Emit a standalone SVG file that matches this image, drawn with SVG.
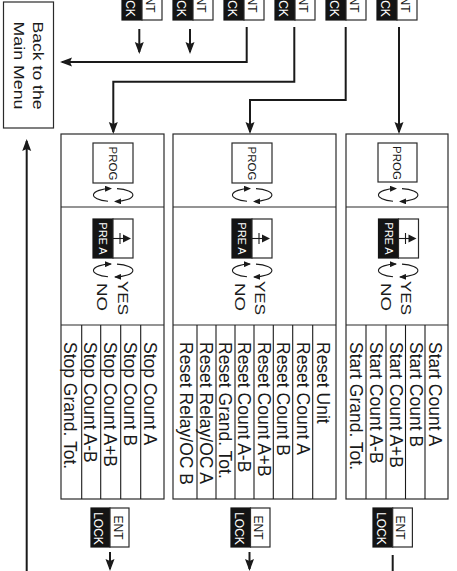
<svg xmlns="http://www.w3.org/2000/svg" width="457" height="571" viewBox="0 0 457 571">
<defs>
<style>
.b{fill:none;stroke:#2a2a2a;stroke-width:1.2}
.w{fill:#fff;stroke:#2a2a2a;stroke-width:1.2}
.k{fill:#141414;stroke:#141414;stroke-width:1.2}
.c{fill:none;stroke:#1a1a1a;stroke-width:2}
.l{fill:none;stroke:#1a1a1a;stroke-width:1.1}
.t{font-family:"Liberation Sans",Arial,sans-serif;fill:#1a1a1a}
.tw{font-family:"Liberation Sans",Arial,sans-serif;fill:#fff}
.li{font-size:17.5px}
.s{font-size:12px}
</style>
<marker id="ah" markerUnits="userSpaceOnUse" markerWidth="12" markerHeight="10" viewBox="0 0 12 10" refX="10" refY="5" orient="auto">
<path d="M0,0.5 L12,5 L0,9.5 L2,5 z" fill="#1a1a1a"/>
</marker>
<marker id="sa" markerUnits="userSpaceOnUse" markerWidth="7" markerHeight="6" viewBox="0 0 7 6" refX="6" refY="3" orient="auto">
<path d="M0,0 L7,3 L0,6 z" fill="#1a1a1a"/>
</marker>
</defs>

<g id="top-keys">
<rect class="k" x="122" y="-19" width="20" height="39"/><rect class="w" x="142" y="-19" width="20" height="39"/>
<rect class="k" x="173" y="-19" width="20" height="39"/><rect class="w" x="193" y="-19" width="20" height="39"/>
<rect class="k" x="224" y="-19" width="20" height="39"/><rect class="w" x="244" y="-19" width="20" height="39"/>
<rect class="k" x="275" y="-19" width="20" height="39"/><rect class="w" x="295" y="-19" width="20" height="39"/>
<rect class="k" x="326" y="-19" width="20" height="39"/><rect class="w" x="346" y="-19" width="20" height="39"/>
<rect class="k" x="377" y="-19" width="20" height="39"/><rect class="w" x="397" y="-19" width="20" height="39"/>
<g class="s" text-anchor="middle">
<text class="tw" transform="translate(125.5,0.5) rotate(90)">LOCK</text><text class="t" transform="translate(145.5,0.5) rotate(90)">ENT</text>
<text class="tw" transform="translate(176.5,0.5) rotate(90)">LOCK</text><text class="t" transform="translate(196.5,0.5) rotate(90)">ENT</text>
<text class="tw" transform="translate(227.5,0.5) rotate(90)">LOCK</text><text class="t" transform="translate(247.5,0.5) rotate(90)">ENT</text>
<text class="tw" transform="translate(278.5,0.5) rotate(90)">LOCK</text><text class="t" transform="translate(298.5,0.5) rotate(90)">ENT</text>
<text class="tw" transform="translate(329.5,0.5) rotate(90)">LOCK</text><text class="t" transform="translate(349.5,0.5) rotate(90)">ENT</text>
<text class="tw" transform="translate(380.5,0.5) rotate(90)">LOCK</text><text class="t" transform="translate(400.5,0.5) rotate(90)">ENT</text>
</g>
</g>

<g id="back-main-menu">
<rect class="b" x="3.5" y="2" width="50" height="126"/>
<text class="t" font-size="15.5" text-anchor="middle" textLength="88" lengthAdjust="spacingAndGlyphs" transform="translate(32.5,65.5) rotate(90)">Back to the</text>
<text class="t" font-size="15.5" text-anchor="middle" textLength="88" lengthAdjust="spacingAndGlyphs" transform="translate(13.5,65.5) rotate(90)">Main Menu</text>
</g>

<g id="stop-box">
<rect class="b" x="61" y="134" width="103" height="365"/>
<line class="b" x1="61" y1="207" x2="164" y2="207"/>
<line class="b" x1="61" y1="325" x2="164" y2="325"/>
<rect class="w" x="93" y="143" width="40" height="40"/>
<text class="t" font-size="11.5" text-anchor="middle" transform="translate(108.5,163.5) rotate(90)">PROG</text>
<path class="l" d="M108,201.3 A19,6.5 0 0 1 111,188.5" marker-end="url(#sa)"/>
<path class="l" d="M117,188.6 A19,6.5 0 0 1 115,201.5" marker-end="url(#sa)"/>
<rect class="k" x="93" y="219" width="20" height="39"/><rect class="w" x="113" y="219" width="20" height="39"/>
<text class="tw" font-size="11" text-anchor="middle" transform="translate(99,238.5) rotate(90)">PRE A</text>
<line class="l" x1="113" y1="238.5" x2="125" y2="238.5"/><line class="l" x1="120" y1="233" x2="120" y2="244"/>
<path d="M131,238.5 L123,234.5 L123,242.5 z" fill="#1a1a1a"/>
<path class="l" d="M108,276.8 A19,6.5 0 0 1 111,264" marker-end="url(#sa)"/>
<path class="l" d="M117,264.1 A19,6.5 0 0 1 115,277" marker-end="url(#sa)"/>
<text class="t" font-size="15" textLength="34" lengthAdjust="spacingAndGlyphs" transform="translate(117.5,281) rotate(90)">YES</text>
<text class="t" font-size="15" textLength="28" lengthAdjust="spacingAndGlyphs" transform="translate(97,283) rotate(90)">NO</text>
<g class="l"><line x1="81.7" y1="325" x2="81.7" y2="499"/><line x1="100.7" y1="325" x2="100.7" y2="499"/><line x1="120.7" y1="325" x2="120.7" y2="499"/><line x1="140.7" y1="325" x2="140.7" y2="499"/></g>
<g class="t li">
<text transform="translate(143.5,342) rotate(90)">Stop Count A</text>
<text transform="translate(123.5,342) rotate(90)">Stop Count B</text>
<text transform="translate(103.5,342) rotate(90)">Stop Count A+B</text>
<text transform="translate(83.5,342) rotate(90)">Stop Count A-B</text>
<text transform="translate(63.5,342) rotate(90)">Stop Grand. Tot.</text>
</g>
<rect class="k" x="91" y="508" width="19" height="39"/><rect class="w" x="110" y="508" width="19" height="39"/>
<text class="tw s" text-anchor="middle" transform="translate(94.3,528.5) rotate(90)">LOCK</text>
<text class="t s" text-anchor="middle" transform="translate(113.5,527.5) rotate(90)">ENT</text>
</g>

<g id="reset-box">
<rect class="b" x="173" y="134" width="163" height="365"/>
<line class="b" x1="173" y1="207" x2="336" y2="207"/>
<line class="b" x1="173" y1="325" x2="336" y2="325"/>
<rect class="w" x="232" y="143" width="40" height="40"/>
<text class="t" font-size="11.5" text-anchor="middle" transform="translate(247.5,163.5) rotate(90)">PROG</text>
<path class="l" d="M247,201.3 A19,6.5 0 0 1 250,188.5" marker-end="url(#sa)"/>
<path class="l" d="M256,188.6 A19,6.5 0 0 1 254,201.5" marker-end="url(#sa)"/>
<rect class="k" x="232" y="219" width="20" height="39"/><rect class="w" x="252" y="219" width="20" height="39"/>
<text class="tw" font-size="11" text-anchor="middle" transform="translate(238,238.5) rotate(90)">PRE A</text>
<line class="l" x1="252" y1="238.5" x2="264" y2="238.5"/><line class="l" x1="259" y1="233" x2="259" y2="244"/>
<path d="M270,238.5 L262,234.5 L262,242.5 z" fill="#1a1a1a"/>
<path class="l" d="M247,276.8 A19,6.5 0 0 1 250,264" marker-end="url(#sa)"/>
<path class="l" d="M256,264.1 A19,6.5 0 0 1 254,277" marker-end="url(#sa)"/>
<text class="t" font-size="15" textLength="34" lengthAdjust="spacingAndGlyphs" transform="translate(255,281) rotate(90)">YES</text>
<text class="t" font-size="15" textLength="28" lengthAdjust="spacingAndGlyphs" transform="translate(235,283) rotate(90)">NO</text>
<g class="l"><line x1="197" y1="325" x2="197" y2="499"/><line x1="216" y1="325" x2="216" y2="499"/><line x1="235" y1="325" x2="235" y2="499"/><line x1="254" y1="325" x2="254" y2="499"/><line x1="273.3" y1="325" x2="273.3" y2="499"/><line x1="292.7" y1="325" x2="292.7" y2="499"/><line x1="312.7" y1="325" x2="312.7" y2="499"/></g>
<g class="t li">
<text transform="translate(316.5,342) rotate(90)">Reset Unit</text>
<text transform="translate(296.5,342) rotate(90)">Reset Count A</text>
<text transform="translate(277,342) rotate(90)">Reset Count B</text>
<text transform="translate(257.5,342) rotate(90)">Reset Count A+B</text>
<text transform="translate(238.3,342) rotate(90)">Reset Count A-B</text>
<text transform="translate(219.3,342) rotate(90)">Reset Grand. Tot.</text>
<text transform="translate(199.5,342) rotate(90)">Reset Relay/OC A</text>
<text transform="translate(180,342) rotate(90)">Reset Relay/OC B</text>
</g>
<rect class="k" x="231" y="508" width="19.5" height="39"/><rect class="w" x="250.5" y="508" width="19.5" height="39"/>
<text class="tw s" text-anchor="middle" transform="translate(234.5,528.5) rotate(90)">LOCK</text>
<text class="t s" text-anchor="middle" transform="translate(254,527.5) rotate(90)">ENT</text>
</g>

<g id="start-box">
<rect class="b" x="346" y="134" width="102" height="365"/>
<line class="b" x1="346" y1="207" x2="448" y2="207"/>
<line class="b" x1="346" y1="325" x2="448" y2="325"/>
<rect class="w" x="378" y="143" width="39" height="39"/>
<text class="t" font-size="11.5" text-anchor="middle" transform="translate(393,163) rotate(90)">PROG</text>
<path class="l" d="M393,201.3 A19,6.5 0 0 1 396,188.5" marker-end="url(#sa)"/>
<path class="l" d="M402,188.6 A19,6.5 0 0 1 400,201.5" marker-end="url(#sa)"/>
<rect class="k" x="378.5" y="219" width="20" height="39"/><rect class="w" x="398.5" y="219" width="20" height="39"/>
<text class="tw" font-size="11" text-anchor="middle" transform="translate(384.5,238.5) rotate(90)">PRE A</text>
<line class="l" x1="398.5" y1="238.5" x2="410.5" y2="238.5"/><line class="l" x1="405.5" y1="233" x2="405.5" y2="244"/>
<path d="M416.5,238.5 L408.5,234.5 L408.5,242.5 z" fill="#1a1a1a"/>
<path class="l" d="M393,276.8 A19,6.5 0 0 1 396,264" marker-end="url(#sa)"/>
<path class="l" d="M402,264.1 A19,6.5 0 0 1 400,277" marker-end="url(#sa)"/>
<text class="t" font-size="15" textLength="34" lengthAdjust="spacingAndGlyphs" transform="translate(400.5,281) rotate(90)">YES</text>
<text class="t" font-size="15" textLength="28" lengthAdjust="spacingAndGlyphs" transform="translate(380.5,283) rotate(90)">NO</text>
<g class="l"><line x1="366" y1="325" x2="366" y2="499"/><line x1="386" y1="325" x2="386" y2="499"/><line x1="405.5" y1="325" x2="405.5" y2="499"/><line x1="425" y1="325" x2="425" y2="499"/></g>
<g class="t li">
<text transform="translate(429,342) rotate(90)">Start Count A</text>
<text transform="translate(409.5,342) rotate(90)">Start Count B</text>
<text transform="translate(390,342) rotate(90)">Start Count A+B</text>
<text transform="translate(370,342) rotate(90)">Start Count A-B</text>
<text transform="translate(350,342) rotate(90)">Start Grand. Tot.</text>
</g>
<rect class="k" x="373" y="508" width="19.7" height="39"/><rect class="w" x="392.7" y="508" width="19.7" height="39"/>
<text class="tw s" text-anchor="middle" transform="translate(376.5,528.5) rotate(90)">LOCK</text>
<text class="t s" text-anchor="middle" transform="translate(396.2,527.5) rotate(90)">ENT</text>
</g>

<g id="connectors">
<line class="c" x1="139.3" y1="29" x2="139.3" y2="52" marker-end="url(#ah)"/>
<line class="c" x1="190" y1="29" x2="190" y2="52" marker-end="url(#ah)"/>
<polyline class="c" points="246.7,27 246.7,62 62,62" marker-end="url(#ah)"/>
<polyline class="c" points="294.3,27 294.3,81.7 113.3,81.7 113.3,132" marker-end="url(#ah)"/>
<polyline class="c" points="345.7,27 345.7,100 250,100 250,132" marker-end="url(#ah)"/>
<line class="c" x1="399" y1="27" x2="399" y2="132" marker-end="url(#ah)"/>
<line class="c" x1="26.7" y1="571" x2="26.7" y2="141" marker-end="url(#ah)"/>
<line class="c" x1="110" y1="552" x2="110" y2="569" marker-end="url(#ah)"/>
<line class="c" x1="249.5" y1="552" x2="249.5" y2="569" marker-end="url(#ah)"/>
<line class="c" x1="392.7" y1="555" x2="392.7" y2="571"/>
</g>
</svg>
